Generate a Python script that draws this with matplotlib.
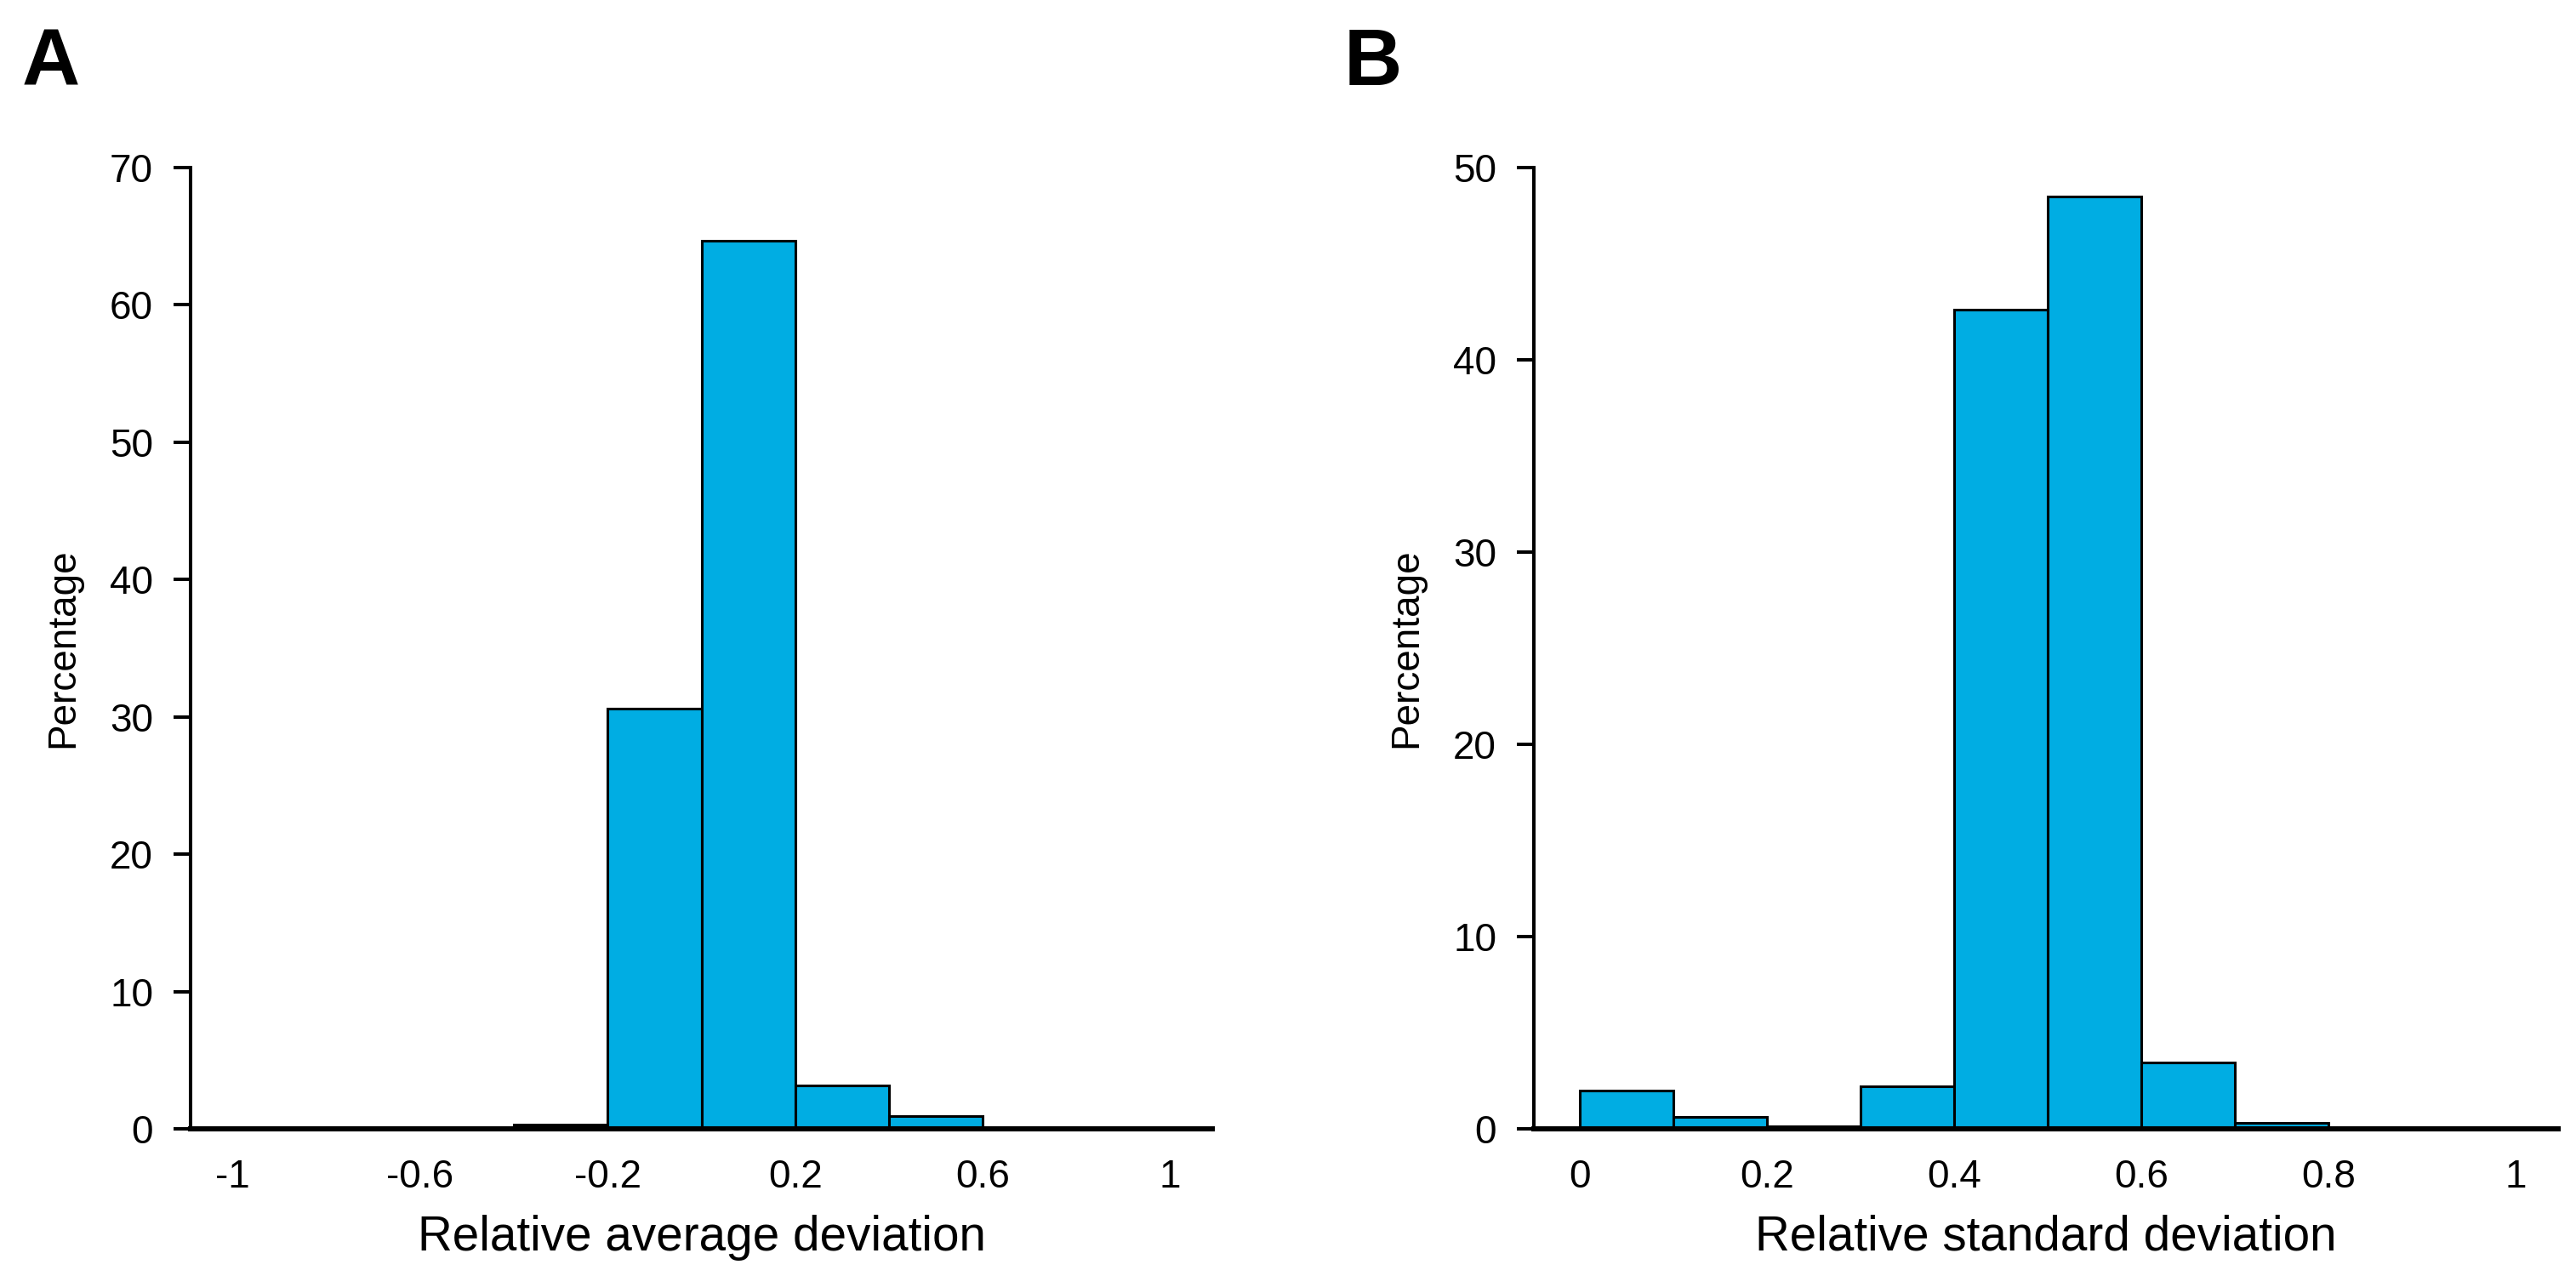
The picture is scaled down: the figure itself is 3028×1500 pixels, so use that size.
import matplotlib
matplotlib.use("Agg")
import matplotlib.pyplot as plt
import numpy as np

plt.rcParams['font.family'] = ['Liberation Sans', 'DejaVu Sans']

# Panel A: relative average deviation histogram (bin edges width 0.2)
a_bin_left = [-1.0, -0.8, -0.6, -0.4, -0.2, 0.0, 0.2, 0.4, 0.6, 0.8]
a_pct = [0.0, 0.15, 0.0, 0.3, 30.6, 64.7, 3.15, 0.93, 0.1, 0.0]
a_xticks = [-1, -0.6, -0.2, 0.2, 0.6, 1]
a_xticklabels = ["-1", "-0.6", "-0.2", "0.2", "0.6", "1"]
a_yticks = [0, 10, 20, 30, 40, 50, 60, 70]

# Panel B: relative standard deviation histogram (bin width 0.1)
b_bin_left = [0.0, 0.1, 0.2, 0.3, 0.4, 0.5, 0.6, 0.7, 0.8, 0.9]
b_pct = [2.0, 0.6, 0.15, 2.2, 42.6, 48.5, 3.45, 0.3, 0.0, 0.0]
b_xticks = [0, 0.2, 0.4, 0.6, 0.8, 1]
b_xticklabels = ["0", "0.2", "0.4", "0.6", "0.8", "1"]
b_yticks = [0, 10, 20, 30, 40, 50]

bar_color = "#00ADE3"

W, H = 3028, 1500
fig = plt.figure(figsize=(W / 200, H / 200), dpi=200)

def panel(rect, lefts, vals, width, xlim, ylim, xticks, xticklabels, yticks, xlabel, letter, letter_x):
    ax = fig.add_axes(rect)
    ax.bar(lefts, vals, width=width, align='edge', color=bar_color,
           edgecolor='black', linewidth=1.1, zorder=2)
    ax.set_xlim(*xlim)
    ax.set_ylim(*ylim)
    ax.set_xticks(xticks)
    ax.set_xticklabels(xticklabels)
    ax.set_yticks(yticks)
    ax.spines['top'].set_visible(False)
    ax.spines['right'].set_visible(False)
    ax.spines['left'].set_linewidth(1.45)
    ax.spines['bottom'].set_linewidth(2.2)
    ax.spines['bottom'].set_zorder(3)
    ax.tick_params(axis='x', length=0, pad=12.5, labelsize=16.5)
    ax.tick_params(axis='y', length=7.2, width=1.45, pad=8.6, labelsize=16.5, direction='out')
    ax.set_xlabel(xlabel, fontsize=20.4, labelpad=8)
    ax.set_ylabel("Percentage", fontsize=16.5, labelpad=12)
    fig.text(letter_x / W, 1 - 100 / H, letter, fontsize=34, fontweight='bold',
             ha='left', va='baseline')
    return ax

bottom = 1 - 1327 / H
height = (1327 - 197) / H

panel([224 / W, bottom, 1201 / W, height], a_bin_left, a_pct, 0.2, (-1.09, 1.09), (0, 70),
      a_xticks, a_xticklabels, a_yticks, "Relative average deviation", "A", 26)
panel([1803 / W, bottom, 1204 / W, height], b_bin_left, b_pct, 0.1, (-0.049, 1.045), (0, 50),
      b_xticks, b_xticklabels, b_yticks, "Relative standard deviation", "B", 1580)

fig.savefig("out.png", dpi=200)
